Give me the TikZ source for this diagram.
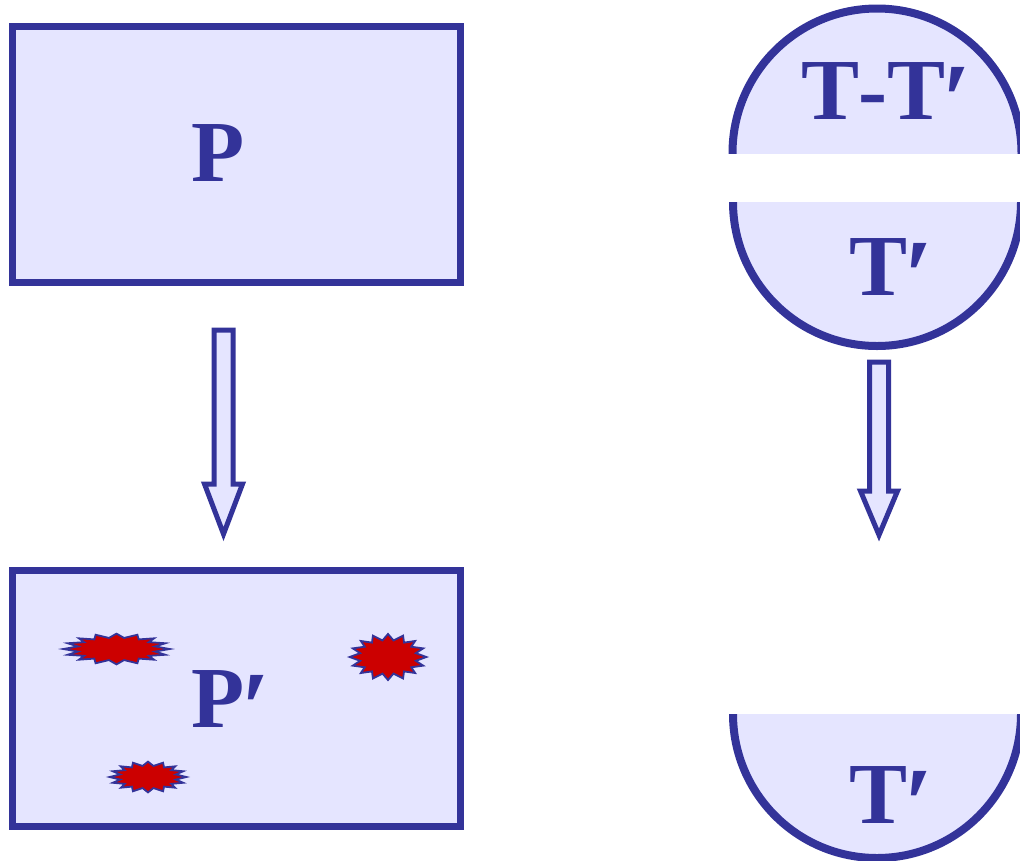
\documentclass[tikz,border=0pt]{standalone}
\usepackage{fontspec}
\setmainfont{Liberation Serif}
\definecolor{ink}{HTML}{333399}
\definecolor{pale}{HTML}{E5E5FF}
\definecolor{burstred}{HTML}{CC0000}
\tikzset{
  box/.style={draw=ink,fill=pale,line width=7pt,miter limit=10},
  disc/.style={draw=ink,fill=pale,line width=8pt},
  downarrow/.style={draw=ink,fill=pale,line width=5pt,miter limit=10},
  burst/.style={draw=ink,fill=burstred,line width=1.8pt,miter limit=10},
  label/.style={text=ink,anchor=base west,inner sep=0pt,font=\fontsize{87}{87}\selectfont\bfseries}
}
\newcommand{\primemark}{\kern-3pt{\fontsize{104}{104}\selectfont\raisebox{-0.16em}{′}}}
\newcommand{\burstat}[4]{%
  \draw[burst,shift={(#1,#2)},xscale=#3,yscale=#4]
    (0,-24)--(5.7,-17.3)--(15.7,-22.3)--(16.7,-15)--(28.3,-16.7)--(24.3,-10.7)--(36.7,-9)--(29,-4)--
    (40,0)--(29,4)--(36.7,9)--(24.3,10.7)--(28.3,16.7)--(16.7,15)--(15.7,22.3)--(5.7,17.3)--
    (0,24)--(-5.7,17.3)--(-15.7,22.3)--(-16.7,15)--(-28.3,16.7)--(-24.3,10.7)--(-36.7,9)--(-29,4)--
    (-40,0)--(-29,-4)--(-36.7,-9)--(-24.3,-10.7)--(-28.3,-16.7)--(-16.7,-15)--(-15.7,-22.3)--(-5.7,-17.3)--cycle;}
\newcommand{\downarrowat}[5]{% x, top, head y, tip, half head
  \draw[downarrow] (#1-9.5,#2)--(#1+9.5,#2)--(#1+9.5,#3)--(#1+#5,#3)--(#1,#4)--(#1-#5,#3)--(#1-9.5,#3)--cycle;}
\begin{document}
\begin{tikzpicture}[x=1pt,y=-1pt]
\useasboundingbox (0,0) rectangle (1020,860);
\clip (0,0) rectangle (1020,860);
% rectangles
\draw[box] (12,26) rectangle (460,282);
\draw[box] (12,570) rectangle (460,826);
% arrows
\downarrowat{223.5}{330}{484}{534}{19}
\downarrowat{879}{362}{491}{535}{18.5}
% circle halves
\begin{scope}
  \clip (700,0) rectangle (1020,153);
  \draw[disc] (877,153) circle [radius=144.5];
\end{scope}
\begin{scope}
  \clip (700,202) rectangle (1020,360);
  \draw[disc] (877,202) circle [radius=144];
\end{scope}
\begin{scope}
  \clip (700,714) rectangle (1020,860);
  \draw[disc] (877,714) circle [radius=144];
\end{scope}
% bursts
\burstat{116.5}{649}{1.33}{0.64}
\burstat{388}{657}{0.96}{0.96}
\burstat{148}{777}{0.96}{0.64}
% labels
\node[label] (p) at (191,181) {P};
\node[label] (pp) at (191,727) {P\primemark};
\node[label] (tt) at (801,119) {T\kern-1pt-\kern0pt T\primemark};
\node[label] (t1) at (849,295) {T\primemark};
\node[label] (t2) at (849,823) {T\primemark};
\end{tikzpicture}
\end{document}
